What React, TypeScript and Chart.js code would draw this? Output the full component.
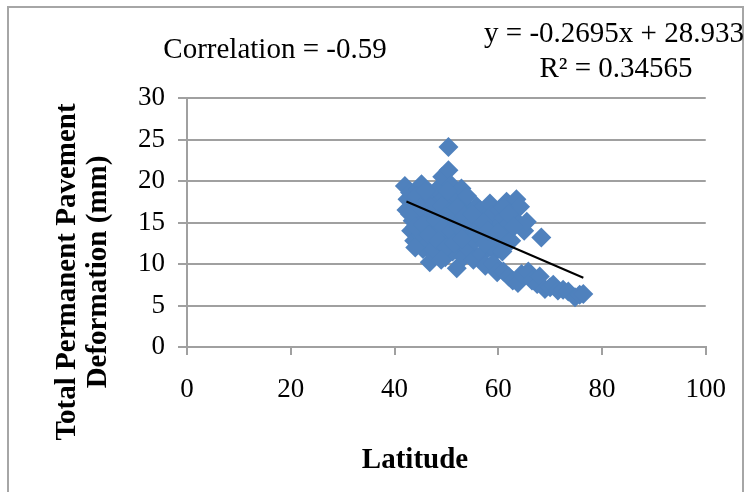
import React, { useEffect, useRef } from "react";
import { Chart, registerables } from "chart.js";

Chart.register(...registerables);

// Scatter data
const latitude: number[] = [
  42.0, 42.5, 42.3, 43.0, 43.5, 43.2, 43.8, 44.0, 44.5, 44.8, 45.0, 45.2, 45.5, 45.8, 46.0, 46.3,
  46.5, 46.8, 47.0, 47.2, 47.5, 47.8, 48.0, 48.2, 48.5, 48.8, 49.0, 49.2, 49.5, 49.8, 50.0, 50.4,
  50.4, 50.6, 50.8, 51.0, 51.2, 51.5, 51.8, 52.0, 52.3, 52.6, 52.9, 53.0, 53.3, 53.6, 54.0, 54.3,
  54.6, 55.0, 55.2, 55.5, 55.8, 56.2, 56.5, 56.8, 57.1, 57.5, 57.8, 58.2, 58.4, 58.8, 59.2, 59.5,
  59.8, 60.2, 60.5, 61.0, 61.3, 61.6, 62.0, 62.5, 62.8, 63.5, 63.8, 64.2, 65.0, 65.5, 68.3,
  43.0, 44.0, 44.2, 45.0, 45.5, 46.0, 46.5, 47.0, 47.5, 48.0, 48.5, 49.0, 49.5, 50.0, 50.2, 50.5,
  51.0, 51.5, 52.0, 52.5, 53.0, 53.5, 54.0, 54.5, 55.0, 56.0, 57.0, 57.5, 58.0, 60.0, 61.0, 62.0,
  63.0, 60.8, 49.0, 44.0,
  57.5, 59.0, 59.8, 61.0, 62.0, 62.8, 63.8, 64.5, 65.8, 66.5, 67.5, 68.0, 69.0, 70.0, 70.6, 71.5,
  72.5, 73.5, 74.8, 75.7, 76.4,
];
const deformation: number[] = [
  19.4, 17.8, 16.5, 18.6, 15.2, 14.0, 12.8, 17.0, 19.0, 15.8, 13.5, 19.6, 11.8, 17.5, 16.2, 14.6,
  12.5, 10.2, 18.5, 15.0, 13.2, 11.0, 17.2, 19.0, 14.0, 16.0, 12.0, 20.5, 18.0, 10.8, 15.0, 21.3,
  24.1, 13.0, 17.5, 19.5, 11.5, 16.2, 14.2, 9.5, 18.0, 12.5, 19.1, 15.5, 10.8, 17.0, 13.5, 11.8,
  16.0, 14.5, 10.5, 12.8, 17.0, 15.2, 16.5, 11.2, 13.8, 10.0, 15.8, 12.0, 17.3, 16.0, 13.0, 11.5,
  14.5, 16.5, 12.5, 15.5, 13.8, 17.5, 14.8, 12.8, 16.2, 17.8, 15.0, 16.9, 14.0, 15.1, 13.2,
  16.0, 14.5, 18.2, 16.8, 14.8, 18.8, 13.5, 16.8, 11.8, 15.2, 12.8, 17.0, 14.5, 12.0, 18.8, 16.2,
  14.0, 12.5, 16.8, 14.5, 13.0, 15.8, 18.2, 14.8, 16.0, 13.5, 15.0, 12.5, 14.0, 13.8, 16.8, 16.0,
  14.5, 11.5, 10.5, 12.0,
  9.8, 10.1, 9.0, 9.1, 8.5, 8.0, 7.7, 8.8, 9.1, 8.0, 7.6, 8.5, 7.0, 7.2, 7.5, 6.8,
  6.9, 6.7, 6.0, 6.3, 6.4,
];

// Linear trendline end points
const trendX: number[] = [42.3, 76.4];
const trendY: number[] = [17.53, 8.34];

const xTicks: number[] = [0, 20, 40, 60, 80, 100];
const yTicks: number[] = [0, 5, 10, 15, 20, 25, 30];

const correlationText = "Correlation = -0.59";
const equationText = "y = -0.2695x + 28.933";
const r2Text = "R² = 0.34565";
const xTitle = "Latitude";
const yTitleLines: string[] = ["Total Permanent Pavement", "Deformation (mm)"];

const SERIF = "'Liberation Serif', 'Times New Roman', serif";

export default function App() {
  const ref = useRef<HTMLCanvasElement | null>(null);

  useEffect(() => {
    if (!ref.current) return;
    const points = latitude.map((x, i) => ({ x, y: deformation[i] }));
    const trend = trendX.map((x, i) => ({ x, y: trendY[i] }));

    const textPlugin = {
      id: "texts",
      beforeDraw(chart: any) {
        const ctx = chart.ctx;
        ctx.save();
        ctx.fillStyle = "#ffffff";
        ctx.fillRect(0, 0, chart.width, chart.height);
        ctx.strokeStyle = "#a6a6a6";
        ctx.lineWidth = 2;
        ctx.strokeRect(8, 7, 735, 500);
        ctx.restore();
      },
      afterDraw(chart: any) {
        const ctx = chart.ctx;
        ctx.save();
        ctx.fillStyle = "#000";
        ctx.textAlign = "center";
        ctx.textBaseline = "alphabetic";
        ctx.font = `29px ${SERIF}`;
        ctx.fillText(correlationText, 275, 58);
        ctx.fillText(equationText, 614, 42);
        ctx.fillText(r2Text, 616, 77);
        ctx.font = `bold 29px ${SERIF}`;
        ctx.fillText(xTitle, 415, 468);
        ctx.translate(0, 272);
        ctx.rotate(-Math.PI / 2);
        ctx.fillText(yTitleLines[0], 0, 75);
        ctx.fillText(yTitleLines[1], 0, 106);
        ctx.restore();
      },
    };

    const chart = new Chart(ref.current, {
      type: "scatter",
      data: {
        datasets: [
          {
            data: points,
            pointStyle: "rectRot",
            pointRadius: 10,
            backgroundColor: "#4F81BD",
            borderColor: "#4F81BD",
            borderWidth: 0,
            order: 2,
          } as any,
          {
            type: "line",
            data: trend,
            borderColor: "#000000",
            borderWidth: 2,
            pointRadius: 0,
            showLine: true,
            fill: false,
            order: 1,
          } as any,
        ],
      },
      options: {
        responsive: false,
        animation: false,
        layout: { padding: { left: 0, right: 39, top: 98, bottom: 0 } },
        plugins: { legend: { display: false }, tooltip: { enabled: false } },
        scales: {
          x: {
            type: "linear",
            min: 0,
            max: 100,
            afterBuildTicks: (s: any) => {
              s.ticks = xTicks.map((v) => ({ value: v }));
            },
            ticks: { font: { family: SERIF, size: 27 }, color: "#000", padding: 19, maxRotation: 0 },
            grid: { drawOnChartArea: false, drawTicks: true, tickLength: 8, color: "#a0a0a0", lineWidth: 2 },
            border: { color: "#a0a0a0", width: 2 },
            afterFit: (s: any) => {
              s.height = 145;
            },
          },
          y: {
            type: "linear",
            min: 0,
            max: 30,
            afterBuildTicks: (s: any) => {
              s.ticks = yTicks.map((v) => ({ value: v }));
            },
            ticks: { font: { family: SERIF, size: 27 }, color: "#000", padding: 13 },
            grid: { color: "#a0a0a0", lineWidth: 2, tickLength: 9 },
            border: { color: "#a0a0a0", width: 2 },
            afterFit: (s: any) => {
              s.width = 187;
            },
          },
        },
      } as any,
      plugins: [textPlugin],
    });
    return () => chart.destroy();
  }, []);

  return (
    <div style={{ position: "absolute", left: 0, top: 0, width: 745, height: 492 }}>
      <canvas ref={ref} width={745} height={492} style={{ width: 745, height: 492, display: "block" }} />
    </div>
  );
}
